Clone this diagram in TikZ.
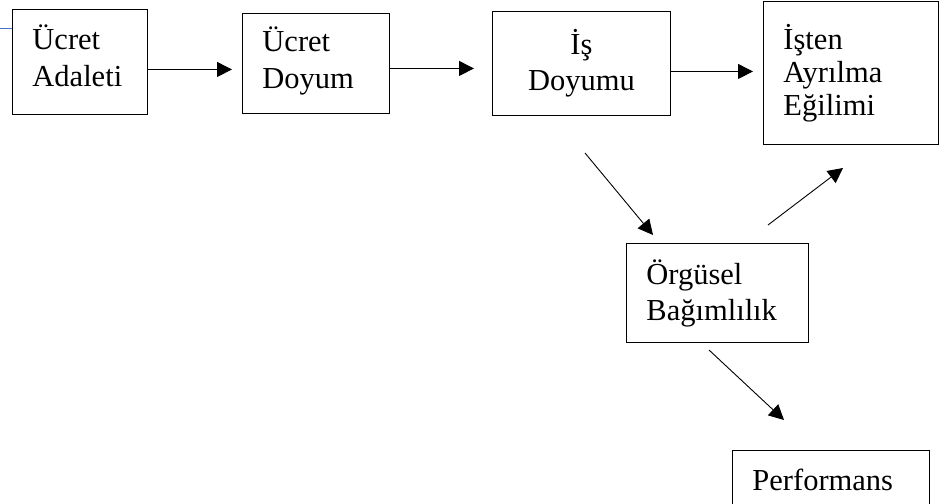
\documentclass[tikz,border=0pt]{standalone}
\usepackage{fontspec}
\setmainfont{Liberation Serif}
\usetikzlibrary{positioning,arrows.meta}
\definecolor{stubblue}{RGB}{68,114,196}
\tikzset{
  box/.style={draw, line width=0.9pt, inner xsep=20pt, inner ysep=0pt,
    align=left, anchor=north west, font=\fontsize{30.5}{36}\selectfont},
  link/.style={-{Triangle[length=15pt,width=15pt]}, line width=0.9pt},
}
\begin{document}
\begin{tikzpicture}[x=1pt,y=-1pt]
    \useasboundingbox (0,0) rectangle (939,503);

    \node[box, text width=95pt,  minimum height=105pt, text depth=50pt,
          font=\fontsize{30.5}{37}\selectfont] (adalet) at (12,9) {Ücret\\Adaleti};
    \node[box, text width=107pt, minimum height=100pt, text depth=49pt,
          font=\fontsize{30.5}{37}\selectfont] (udoyum) at (242,13) {Ücret\\Doyum};
    \node[box, text width=138pt, minimum height=104pt, align=center] (isdoyum) at (492,11) {İş\\Doyumu};
    \node[box, text width=135pt, minimum height=143pt,
          font=\fontsize{30.5}{33}\selectfont] (ayrilma) at (763,1) {İşten\\Ayrılma\\Eğilimi};
    \node[box, text width=142pt, minimum height=99pt]  (bagim)  at (626,243) {Örgüsel\\Bağımlılık};
    \node[box, text width=157pt, minimum height=58pt]  (perf)   at (732,450) {Performans};

    \coordinate (d1s) at (585,153);
    \coordinate (d1e) at (653,235);
    \coordinate (d2s) at (768,225);
    \coordinate (d2e) at (843,168);
    \coordinate (d3s) at (709,350);
    \coordinate (d3e) at (784,420);

    \draw[link, shorten >=10pt] ([yshift=-7.5pt]adalet.east) -- ([yshift=-7.5pt]adalet.east -| udoyum.west);
    \draw[link, shorten >=18pt] ([yshift=-5pt]udoyum.east) -- ([yshift=-5pt]udoyum.east -| isdoyum.west);
    \draw[link, shorten >=10pt] ([yshift=-8pt]isdoyum.east) -- ([yshift=-8pt]isdoyum.east -| ayrilma.west);
    \draw[link] (d1s) -- (d1e);
    \draw[link] (d2s) -- (d2e);
    \draw[link] (d3s) -- (d3e);

    \draw[stubblue, line width=0.9pt] (0,28) -- (adalet.west |- 0,28);
\end{tikzpicture}
\end{document}
